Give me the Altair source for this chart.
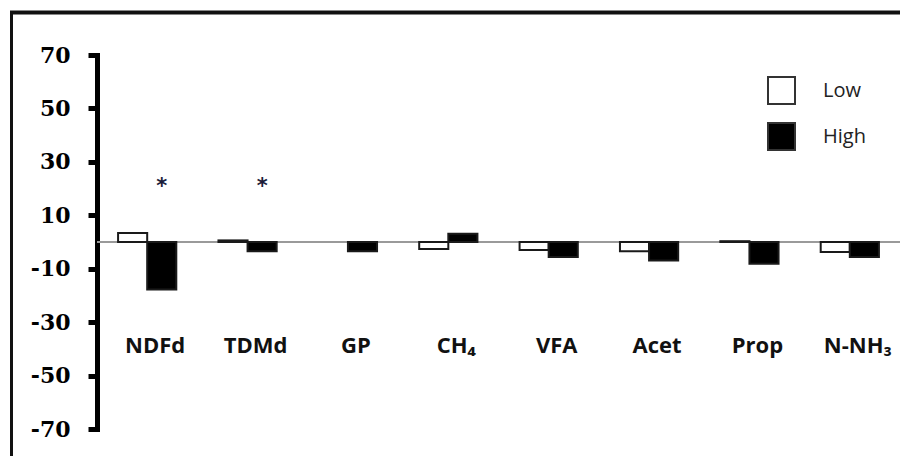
import altair as alt
import pandas as pd

# ---- data ----
categories = ["NDFd", "TDMd", "GP", "CH4", "VFA", "Acet", "Prop", "N-NH3"]
cat_labels = ["NDFd", "TDMd", "GP", "CH\u2084", "VFA", "Acet", "Prop", "N-NH\u2083"]
levels = ["Low", "High"]
low_values = [3.4, 0.6, 0.0, -2.6, -3.0, -3.5, 0.3, -3.7]
high_values = [-17.8, -3.5, -3.5, 3.1, -5.6, -6.9, -8.1, -5.6]
significant = [True, True, False, False, False, False, False, False]
asterisk_level = 22
y_ticks = [-70, -50, -30, -10, 10, 30, 50, 70]
y_domain = [-70, 70]

rows = []
for c, lo, hi in zip(categories, low_values, high_values):
    rows.append({"category": c, "level": "Low", "value": lo})
    rows.append({"category": c, "level": "High", "value": hi})
df = pd.DataFrame(rows)

df_labels = pd.DataFrame({"category": categories, "label": cat_labels})
df_sig = pd.DataFrame({
    "category": [c for c, s in zip(categories, significant) if s],
    "level": "High",
    "y": asterisk_level,
    "txt": "*",
})
df_zero = pd.DataFrame({"y": [0]})

W, H = 803, 374

x_enc = alt.X("category:N", sort=categories, axis=None,
              scale=alt.Scale(domain=categories, paddingInner=0.42, paddingOuter=0.21))
xoff_enc = alt.XOffset("level:N", sort=levels,
                       scale=alt.Scale(domain=levels, paddingInner=0, paddingOuter=0))
y_scale = alt.Scale(domain=y_domain, nice=False, zero=False)
y_axis = alt.Axis(values=y_ticks, grid=False, domainWidth=5, domainColor="black",
                  domainCap="square", tickWidth=5, tickColor="black", tickSize=9,
                  labelFont="DejaVu Serif", labelFontWeight="bold", labelFontSize=22,
                  labelColor="black", labelPadding=18, title=None,
                  labelExpr="'' + datum.value")

zero_line = alt.Chart(df_zero).mark_rule(color="#9a9a9a", strokeWidth=2).encode(
    y=alt.Y("y:Q", scale=y_scale, axis=y_axis, title=None)
)

bars = alt.Chart(df).transform_filter("datum.value != 0").mark_bar(
    stroke="#1a1a1a", strokeWidth=2
).encode(
    x=x_enc,
    xOffset=xoff_enc,
    y=alt.Y("value:Q", scale=y_scale, title=None, axis=y_axis),
    fill=alt.Fill("level:N", sort=levels,
                  scale=alt.Scale(domain=levels, range=["white", "black"]),
                  legend=alt.Legend(title=None, orient="none", legendX=670, legendY=21,
                                    symbolType="square", symbolSize=729,
                                    symbolStrokeColor="#333", symbolStrokeWidth=2,
                                    labelFont="Open Sans", labelFontSize=20,
                                    labelColor="#222", labelOffset=27, rowPadding=11,
                                    padding=0)),
)

stars = alt.Chart(df_sig).mark_text(
    font="DejaVu Sans", fontWeight="bold", fontSize=21, color="#1c1c3a", baseline="middle", dy=4
).encode(
    x=x_enc, xOffset=xoff_enc, y=alt.Y("y:Q", scale=y_scale, axis=y_axis, title=None), text="txt:N"
)

cat_text = alt.Chart(df_labels).mark_text(
    font="Open Sans", fontWeight="bold", fontSize=22, color="#111", baseline="middle", dx=8
).encode(
    x=x_enc, y=alt.value(291), text="label:N"
)

frame_df = pd.DataFrame({"k": [0]})
frame_top = alt.Chart(frame_df).mark_rule(color="#111", strokeWidth=4).encode(
    x=alt.value(-87), x2=alt.value(820), y=alt.value(-42.5)
)
frame_left = alt.Chart(frame_df).mark_rule(color="#111", strokeWidth=3).encode(
    x=alt.value(-85.5), y=alt.value(-44), y2=alt.value(420)
)

chart = alt.layer(zero_line, bars, stars, cat_text, frame_top, frame_left).properties(
    width=W, height=H,
    background="white",
    autosize=alt.AutoSizeParams(type="none"),
    padding={"left": 89, "top": 47, "right": 0, "bottom": 27},
).configure_view(stroke=None)

chart.save("out.html", embed_options={"renderer": "svg", "actions": False})
